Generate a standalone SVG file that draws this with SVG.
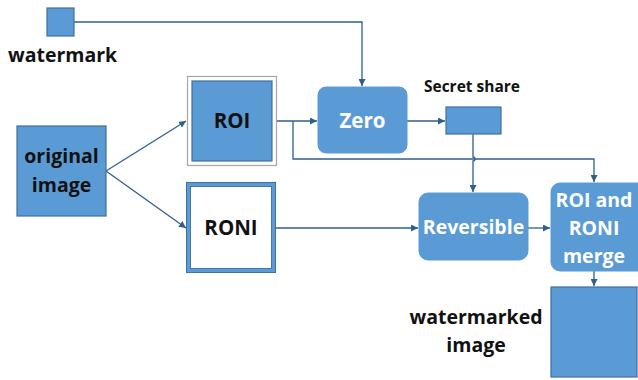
<svg xmlns="http://www.w3.org/2000/svg" width="638" height="380" viewBox="0 0 638 380">
  <style>
    .box { fill: #5B9BD5; stroke: #41719C; stroke-width: 1.2; }
    .proc { fill: #5B9BD5; stroke: #5B9BD5; }
    .conn { fill: none; stroke: #2F5F8F; stroke-width: 1.3; }
    .lbl { font-family: "Open Sans", Lato, "Liberation Sans", sans-serif; font-weight: bold; fill: #111; }
    .wlbl { font-family: "Open Sans", Lato, "Liberation Sans", sans-serif; font-weight: bold; fill: #fff; }
  </style>
  <defs>
    <marker id="arrow" viewBox="0 0 10 10" refX="10" refY="5" markerWidth="7" markerHeight="7" markerUnits="userSpaceOnUse" orient="auto">
      <path d="M0,0 L10,5 L0,10 z" fill="#2F5F8F"/>
    </marker>
  </defs>
  <rect width="638" height="380" fill="#fff"/>

  <!-- connectors -->
  <g id="connectors">
    <path class="conn" d="M74,22 H362 V86" marker-end="url(#arrow)"/>
    <path class="conn" d="M106,171 L186,121" marker-end="url(#arrow)"/>
    <path class="conn" d="M106,171 L186,228" marker-end="url(#arrow)"/>
    <path class="conn" d="M276,121 H317" marker-end="url(#arrow)"/>
    <path class="conn" d="M293,121 V159 H594 V182" marker-end="url(#arrow)"/>
    <path class="conn" d="M407,121 H445" marker-end="url(#arrow)"/>
    <path class="conn" d="M473,134 V157 A2,2 0 0 1 473,161 V192" marker-end="url(#arrow)"/>
    <path class="conn" d="M276,228 H418" marker-end="url(#arrow)"/>
    <path class="conn" d="M528,228 H550" marker-end="url(#arrow)"/>
    <path class="conn" d="M594,271 V286" marker-end="url(#arrow)"/>
  </g>

  <g id="watermark">
    <rect class="box" x="47" y="8" width="27" height="28"/>
    <text class="lbl" x="8" y="62" font-size="19.5">watermark</text>
  </g>

  <g id="original-image">
    <rect class="box" x="17" y="126" width="89" height="90"/>
    <text class="lbl" x="61.5" y="163" font-size="19.5" text-anchor="middle">original</text>
    <text class="lbl" x="61.5" y="192" font-size="19.5" text-anchor="middle">image</text>
  </g>

  <g id="roi">
    <rect x="187.5" y="76.5" width="89" height="89" fill="#fff" stroke="#A6A6A6" stroke-width="1.2"/>
    <rect class="box" x="192" y="81" width="80" height="80"/>
    <text class="lbl" x="232" y="128" font-size="20.5" text-anchor="middle">ROI</text>
  </g>

  <g id="roni">
    <rect x="188.5" y="184.5" width="85" height="86" fill="#fff" stroke="#5B9BD5" stroke-width="5"/>
    <rect x="186.5" y="182.5" width="89" height="90" fill="none" stroke="#41719C" stroke-width="1"/>
    <rect x="190.5" y="186.5" width="81" height="82" fill="none" stroke="#41719C" stroke-width="0.8"/>
    <text class="lbl" x="231" y="235" font-size="20.5" text-anchor="middle">RONI</text>
  </g>

  <g id="zero">
    <rect class="proc" x="318" y="87" width="89" height="66" rx="8"/>
    <text class="wlbl" x="362.5" y="128" font-size="20.5" text-anchor="middle">Zero</text>
  </g>

  <g id="secret-share">
    <rect class="box" x="446" y="107" width="55" height="27"/>
    <text class="lbl" x="472" y="92" font-size="15.5" text-anchor="middle">Secret share</text>
  </g>

  <g id="reversible">
    <rect class="proc" x="419" y="193" width="109" height="67" rx="9"/>
    <text class="wlbl" x="473.5" y="234" font-size="19.5" text-anchor="middle">Reversible</text>
  </g>

  <g id="merge">
    <rect class="proc" x="551" y="183" width="96" height="88" rx="9"/>
    <text class="wlbl" x="594" y="207" font-size="19.5" text-anchor="middle">ROI and</text>
    <text class="wlbl" x="594" y="235" font-size="19.5" text-anchor="middle">RONI</text>
    <text class="wlbl" x="594" y="263" font-size="19.5" text-anchor="middle">merge</text>
  </g>

  <g id="watermarked-image">
    <rect class="box" x="551" y="287" width="86" height="90"/>
    <text class="lbl" x="476" y="324" font-size="19.5" text-anchor="middle">watermarked</text>
    <text class="lbl" x="476" y="352" font-size="19.5" text-anchor="middle">image</text>
  </g>
</svg>
